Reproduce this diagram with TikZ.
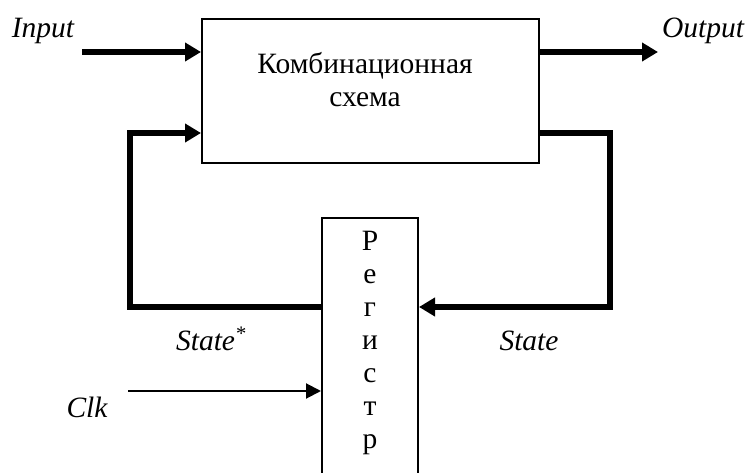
\documentclass[tikz,border=0pt]{standalone}
\usepackage{fontspec}
\setmainfont{Liberation Serif}
\usetikzlibrary{arrows.meta, positioning}

\begin{document}
\begin{tikzpicture}[
      x=1pt, y=-1pt,
      block/.style={draw, line width=2pt, minimum width=337pt, minimum height=144pt, inner sep=0pt},
      regbox/.style={draw, line width=2pt, minimum width=96pt, minimum height=290pt, inner sep=0pt},
      sig/.style={font=\fontsize{29.5}{33}\selectfont\itshape, inner sep=0pt},
      txt/.style={font=\fontsize{29.5}{33}\selectfont, align=center, inner sep=0pt},
      bus/.style={-{Triangle[length=16pt, width=18pt]}, line width=5.5pt},
      wire/.style={-{Triangle[length=15pt, width=15pt]}, line width=2pt}
    ]
      \path[use as bounding box, clip] (0,0) rectangle (747,473);

      \node[block] (comb) at (370.5,91) {};
      \node[txt] (combtxt) at (365,80) {Комбинационная\\схема};
      \node[regbox, anchor=north] (reg) at (370,217) {};
      \node[txt, anchor=north] (regtxt) at (370,231) {Р\\е\\г\\и\\с\\т\\р};

      \node[sig, anchor=base] (input) at (43,38) {Input};
      \node[sig, anchor=base] (output) at (703,38) {Output};
      \node[sig, anchor=base] (statein) at (211,350) {State\textsuperscript{*}};
      \node[sig, anchor=base] (stateout) at (529,350) {State};
      \node[sig, anchor=base] (clk) at (87,417) {Clk};

      \coordinate (inA) at (82,52);
      \coordinate (outB) at (658,52);
      \coordinate (fbR) at (610,133);
      \coordinate (fbL) at (130,307);
      \coordinate (clkA) at (128,391);

      \draw[bus] (inA) -- (inA -| comb.west);
      \draw[bus] (outB -| comb.east) -- (outB);
      \draw[bus] (comb.east |- fbR) -- (fbR) |- (reg.east |- fbL);
      \draw[bus] (reg.west |- fbL) -- (fbL) |- (comb.west |- fbR);
      \draw[wire] (clkA) -- (clkA -| reg.west);
    \end{tikzpicture}
\end{document}
